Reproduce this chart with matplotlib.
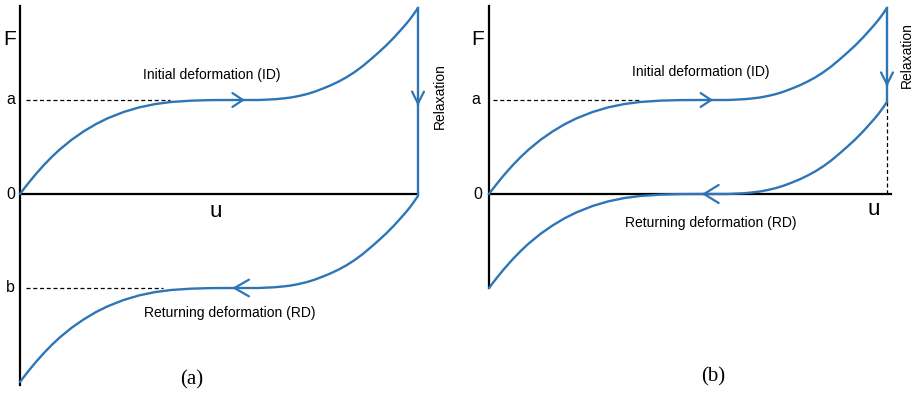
import matplotlib
matplotlib.use('Agg')
import matplotlib.pyplot as plt

plt.rcParams['font.family'] = ['Liberation Sans', 'DejaVu Sans']

BLUE = '#2e75b6'

# ── Loading / unloading curves (u scaled to 1 at end of loading, F in units of a) ──
u_curve = [0.00, 0.01, 0.02, 0.03, 0.04, 0.06, 0.08, 0.10, 0.13, 0.16, 0.19,
           0.22, 0.26, 0.30, 0.34, 0.38, 0.43, 0.48, 0.54, 0.60, 0.64, 0.66,
           0.68, 0.70, 0.72, 0.74, 0.76, 0.78, 0.80, 0.82, 0.84, 0.86, 0.88,
           0.90, 0.92, 0.94, 0.96, 0.97, 0.98, 0.99, 1.00]
F_id = [0.000, 0.056, 0.110, 0.162, 0.213, 0.308, 0.395, 0.474, 0.578, 0.666,
        0.742, 0.805, 0.872, 0.922, 0.957, 0.979, 0.993, 0.999, 1.000, 1.000,
        1.008, 1.016, 1.026, 1.042, 1.062, 1.088, 1.120, 1.155, 1.195, 1.241,
        1.295, 1.357, 1.428, 1.502, 1.580, 1.666, 1.760, 1.808, 1.860, 1.918,
        1.980]
# returning deformation, case (a): full relaxation down to F = 0
F_rd_a = [-2.000, -1.944, -1.890, -1.838, -1.787, -1.692, -1.605, -1.526, -1.422,
          -1.334, -1.258, -1.195, -1.128, -1.078, -1.043, -1.021, -1.007, -1.001,
          -1.000, -1.000, -0.992, -0.984, -0.974, -0.958, -0.938, -0.912, -0.880,
          -0.845, -0.805, -0.759, -0.705, -0.643, -0.572, -0.498, -0.420, -0.334,
          -0.240, -0.192, -0.140, -0.082, -0.020]
# returning deformation, case (b): partial relaxation
F_rd_b = [-1.000, -0.944, -0.890, -0.838, -0.787, -0.692, -0.605, -0.526, -0.422,
          -0.334, -0.258, -0.195, -0.128, -0.078, -0.043, -0.021, -0.007, -0.001,
          0.000, 0.000, 0.008, 0.016, 0.026, 0.042, 0.062, 0.088, 0.120, 0.155,
          0.195, 0.241, 0.295, 0.357, 0.428, 0.502, 0.580, 0.666, 0.760, 0.808,
          0.860, 0.918, 0.980]

F_a = 1.0    # plateau level a
F_b = -1.0   # plateau level b

# arrow tips on the curves
arrow_id_a, arrow_rd_a, arrow_rx_a = (0.565, 1.0), (0.533, -1.0), (1.0, 0.936)
arrow_id_b, arrow_rd_b, arrow_rx_b = (0.563, 1.0), (0.535, 0.0), (1.0, 1.14)

# ── Layout: both panels share the same pixel scale ───────────────────────────
W, H = 918, 394
PX_U, PX_F = 398.0, 94.0   # pixels per unit u, per unit F
Y0 = 194                   # pixel row of F = 0

fig = plt.figure(figsize=(W / 100, H / 100), dpi=100)


def make_panel(left_px, origin_px):
    ax = fig.add_axes([left_px / W, 0, (W / 2) / W, 1])
    ax.set_xlim((left_px - origin_px) / PX_U, (left_px + W / 2 - origin_px) / PX_U)
    ax.set_ylim((Y0 - H) / PX_F, Y0 / PX_F)
    ax.patch.set_alpha(0)
    for s in ['top', 'right']:
        ax.spines[s].set_visible(False)
    ax.spines['left'].set_position(('data', 0))
    ax.spines['bottom'].set_position(('data', 0))
    for s in ['left', 'bottom']:
        ax.spines[s].set_linewidth(1.6)
        ax.spines[s].set_zorder(1)
    ax.set_xticks([])
    ax.set_yticks([])
    return ax


def chevron(ax, tip, direction, length, half):
    dx, dy = direction
    ax.annotate('', xy=tip, xytext=(-dx, -dy), textcoords='offset points',
                arrowprops=dict(arrowstyle=f'->,head_length={length / 10},head_width={half / 10}',
                                color=BLUE, lw=1.6, mutation_scale=10,
                                shrinkA=0, shrinkB=0), zorder=4)


def curve(ax, F):
    ax.plot(u_curve, F, color=BLUE, lw=1.7, solid_capstyle='round',
            solid_joinstyle='round', zorder=3, clip_on=False)


dash_kw = dict(color='black', lw=0.9, dashes=(3.2, 2.2), zorder=2)
lab_kw = dict(ha='center', va='center', fontsize=11.5)
txt_kw = dict(ha='center', va='center', fontsize=10)

# ── Panel (a) ────────────────────────────────────────────────────────────────
ax = make_panel(0, 20)
ax.spines['left'].set_bounds(-2.03, 2.0)
ax.spines['bottom'].set_bounds(0, 1.0)
curve(ax, F_id)
curve(ax, F_rd_a)
ax.plot([u_curve[-1], u_curve[-1]], [F_id[-1], F_rd_a[-1] + 0.02], color=BLUE, lw=1.7, zorder=3)
ax.plot([0.015, 0.377], [F_a, F_a], **dash_kw)
ax.plot([0.015, 0.36], [F_b, F_b], **dash_kw)
chevron(ax, arrow_id_a, (1, 0), 7.5, 5.0)
chevron(ax, arrow_rd_a, (-1, 0), 10.5, 6.0)
chevron(ax, arrow_rx_a, (0, -1), 8.6, 4.3)

ax.text(-0.025, 1.64, 'F', ha='center', va='center', fontsize=15)
ax.text(-0.023, F_a, 'a', **lab_kw)
ax.text(-0.023, -0.01, '0', **lab_kw)
ax.text(-0.023, F_b, 'b', **lab_kw)
ax.text(0.492, -0.19, 'u', ha='center', va='center', fontsize=16)
ax.text(0.482, 1.266, 'Initial deformation (ID)', **txt_kw)
ax.text(0.528, -1.266, 'Returning deformation (RD)', **txt_kw)
ax.text(1.055, 1.043, 'Relaxation', rotation=90, **txt_kw)
ax.text(0.432, -1.98, '(a)', ha='center', va='center', fontsize=15, family='Liberation Serif')

# ── Panel (b) ────────────────────────────────────────────────────────────────
ax = make_panel(459, 489)
ax.spines['left'].set_bounds(-1.0, 2.0)
ax.spines['bottom'].set_bounds(0, 1.01)
curve(ax, F_id)
curve(ax, F_rd_b)
ax.plot([u_curve[-1], u_curve[-1]], [F_id[-1], F_rd_b[-1]], color=BLUE, lw=1.7, zorder=3)
ax.plot([0.01, 0.379], [F_a, F_a], **dash_kw)
ax.plot([u_curve[-1], u_curve[-1]], [F_rd_b[-1], 0], **dash_kw)
chevron(ax, arrow_id_b, (1, 0), 7.5, 5.0)
chevron(ax, arrow_rd_b, (-1, 0), 10.5, 6.5)
chevron(ax, arrow_rx_b, (0, -1), 8.6, 4.3)

ax.text(-0.028, 1.64, 'F', ha='center', va='center', fontsize=15)
ax.text(-0.034, F_a, 'a', **lab_kw)
ax.text(-0.028, -0.01, '0', **lab_kw)
ax.text(0.967, -0.16, 'u', ha='center', va='center', fontsize=16)
ax.text(0.533, 1.298, 'Initial deformation (ID)', **txt_kw)
ax.text(0.558, -0.31, 'Returning deformation (RD)', **txt_kw)
ax.text(1.051, 1.479, 'Relaxation', rotation=90, **txt_kw)
ax.text(0.563, -1.947, '(b)', ha='center', va='center', fontsize=15, family='Liberation Serif')

fig.savefig('out.png', dpi=100, facecolor='white')
